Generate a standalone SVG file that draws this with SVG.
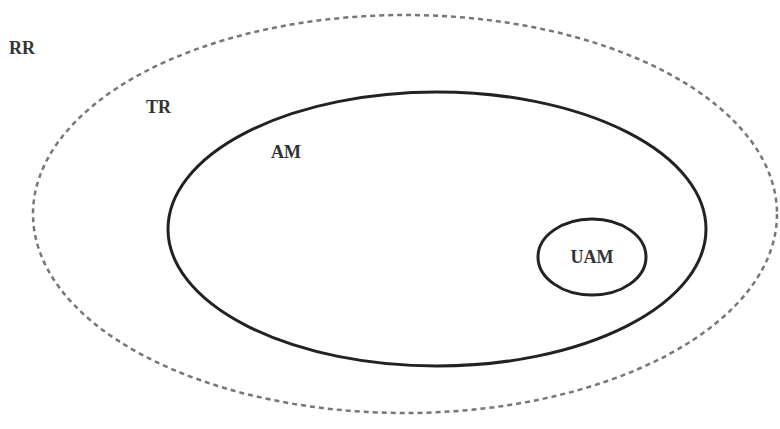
<svg xmlns="http://www.w3.org/2000/svg" width="780" height="429" viewBox="0 0 780 429">
<style>
.lbl{font-family:"Liberation Serif","Times New Roman",serif;font-weight:bold;font-size:18px;fill:#333}
.dash{fill:none;stroke:#777;stroke-width:2.5;stroke-dasharray:5 4}
.solid{fill:none;stroke:#222;stroke-width:3}
</style>
<rect width="780" height="429" fill="#fff"/>
<g id="RR">
<ellipse class="dash" cx="405" cy="214" rx="372" ry="199"/>
<text class="lbl" x="9" y="54">RR</text>
</g>
<g id="TR">
<text class="lbl" x="146" y="113">TR</text>
</g>
<g id="AM">
<ellipse class="solid" cx="437" cy="229" rx="269" ry="137"/>
<text class="lbl" x="271" y="158">AM</text>
</g>
<g id="UAM">
<ellipse class="solid" cx="592" cy="257" rx="54" ry="38"/>
<text class="lbl" x="592" y="263" text-anchor="middle">UAM</text>
</g>
<g id="connectors"/>
</svg>
